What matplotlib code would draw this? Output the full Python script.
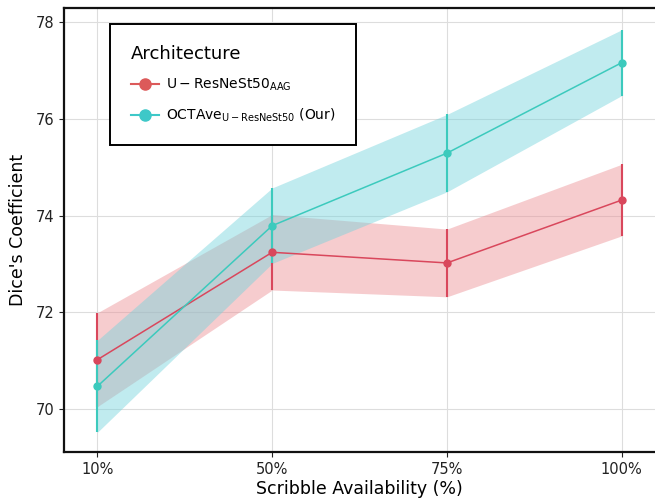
import numpy as np
import matplotlib
matplotlib.use("Agg")
from matplotlib import pyplot as plt

# Data
availability = ["10%", "50%", "75%", "100%"]
resnest_mean = [71.02, 73.24, 73.02, 74.32]
resnest_err = [0.97, 0.78, 0.70, 0.74]
octave_mean = [70.47, 73.79, 75.29, 77.16]
octave_err = [0.95, 0.78, 0.80, 0.68]

series_labels = [r"$\mathrm{U-ResNeSt50_{AAG}}$",
                 r"$\mathrm{OCTAve_{U-ResNeSt50}}$ (Our)"]
line_colors = ["#d9475c", "#3ccabd"]
band_colors = ["#ec8f94", "#74d3dc"]
marker_colors = ["#dc5a5a", "#3ec8c8"]

fig = plt.figure(figsize=(6.55, 4.99), dpi=100)
ax = fig.add_axes([0.098, 0.094, 0.902, 0.890])

x = np.arange(len(availability))
for mean, err, lc, bc, mc, lab in zip([resnest_mean, octave_mean],
                                      [resnest_err, octave_err],
                                      line_colors, band_colors, marker_colors,
                                      series_labels):
    mean = np.asarray(mean)
    err = np.asarray(err)
    ax.fill_between(x, mean - err, mean + err, color=bc, alpha=0.45, lw=0, zorder=2)
    ax.vlines(x, mean - err, mean + err, color=lc, lw=1.5, zorder=3)
    ax.plot(x, mean, color=lc, lw=1.1, zorder=4)
    ax.plot(x, mean, "o", color=lc, ms=5, zorder=5)
    # legend handle
    ax.plot([], [], "-o", color=mc, lw=1.5, ms=8, label=lab)

ax.set_xlim(-0.19, 3.19)
ax.set_ylim(69.11, 78.29)
ax.set_xticks(x)
ax.set_xticklabels(availability)
ax.set_yticks([70, 72, 74, 76, 78])
ax.tick_params(labelsize=10.5, colors="#222222")
ax.grid(True, color="#dddddd", lw=0.8, zorder=0)
ax.set_axisbelow(True)

for side in ["left", "bottom", "top"]:
    ax.spines[side].set_linewidth(1.6)
    ax.spines[side].set_color("#111111")
ax.spines["right"].set_visible(False)

ax.set_xlabel("Scribble Availability (%)", fontsize=12.5, labelpad=2)
ax.set_ylabel("Dice's Coefficient", fontsize=12.5, labelpad=6)

leg = ax.legend(title="Architecture", loc="upper left",
                bbox_to_anchor=(0.078, 0.964), borderaxespad=0,
                fontsize=10, title_fontsize=13, fancybox=False,
                edgecolor="black", framealpha=1, borderpad=1.5,
                handlelength=2.0, handletextpad=0.5, labelspacing=1.0)
leg._legend_box.align = "left"
leg.get_frame().set_linewidth(1.4)

fig.savefig("out.png", dpi=100)
